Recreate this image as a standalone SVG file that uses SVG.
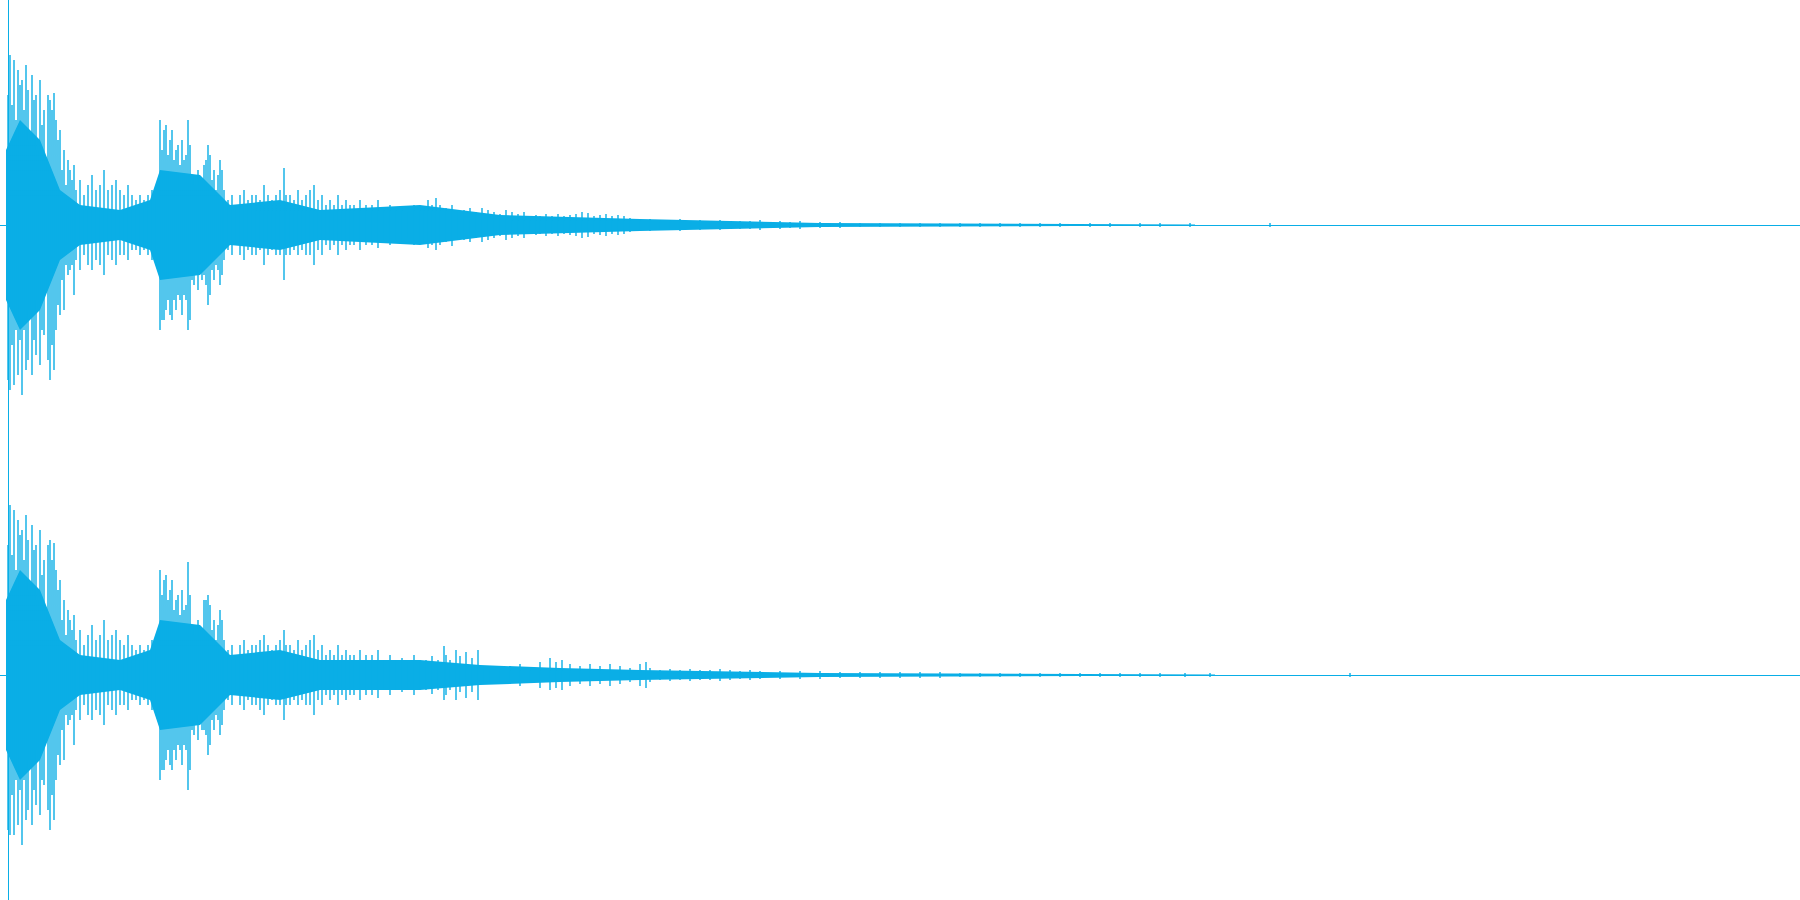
<svg xmlns="http://www.w3.org/2000/svg" width="1800" height="900" viewBox="0 0 1800 900">
<style>.w{stroke:#0aaee6;stroke-width:1.4;fill:none}.b{stroke:#0aaee6;stroke-width:1;fill:none}.f{fill:#0aaee6}</style>
<rect width="1800" height="900" fill="#fff"/>
<g id="axes" class="b"><path d="M8.5 0V900M0 225.5H1800M0 675.5H1800"/></g>
<g id="ch1">
<path class="f" d="M6 150L20 120L40 140L60 190L80 205L120 210L150 200L160 170L200 175L230 205L280 200L320 210L420 205L500 215L640 219L820 223L1195 224.5L1195 225.5L820 227L640 231L500 235L420 245L320 240L280 250L230 245L200 275L160 280L150 250L120 240L80 245L60 260L40 310L20 330L6 300Z"/>
<path class="w" d="M8 95V380M10 55V390M12 105V345M14 60V385M16 120V330M18 70V375M20 85V340M22 80V395M24 110V330M26 65V370M28 90V360M30 140V310M32 75V375M34 100V340M36 95V355M38 150V300M40 80V365M42 125V330M44 110V335M46 160V290M48 95V360M50 100V380M52 110V345M54 93V370M56 120V330M58 140V305M60 130V315M62 170V280M64 150V310M66 185V265M68 160V275M70 170V270M72 180V265M74 165V295M76 190V260M80 180V270M84 195V255M88 185V265M92 175V270M96 190V260M100 185V265M104 170V275M108 190V255M112 185V260M116 180V265M120 190V255M124 195V255M128 185V260M132 195V250M136 200V250M140 195V255M144 200V250M148 195V255M152 190V260M156 200V250M160 120V330M162 150V320M164 130V320M166 125V310M168 155V300M170 140V315M172 130V320M174 160V300M176 150V310M178 145V295M180 165V300M182 140V315M184 160V295M186 155V300M188 120V330M190 145V320M192 180V280M194 175V285M196 185V270M198 170V290M200 180V265M202 180V280M204 165V275M206 160V285M208 145V305M210 155V295M212 180V270M214 170V280M216 190V265M218 175V270M220 160V285M222 170V275M224 190V260M228 200V250M232 195V255M236 205V245M240 195V255M244 190V260M248 200V250M252 195V255M256 195V255M260 200V250M264 185V265M268 195V255M272 200V250M276 195V255M280 190V255M284 168V280M286 195V255M290 195V255M294 200V250M298 190V255M302 200V250M306 195V255M310 190V255M314 185V265M318 200V250M322 195V255M326 205V245M330 200V250M334 205V245M338 195V255M342 205V245M346 200V250M350 205V245M354 205V245M360 200V250M366 205V245M372 205V245M378 200V248M384 210V240M390 205V245M396 210V240M402 208V242M408 212V238M414 205V245M420 210V240M424 208V244M428 200V248M432 205V245M436 198V250M440 205V245M446 208V242M452 205V246M458 210V240M464 210V240M470 208V242M476 212V238M482 208V242M488 210V240M494 212V238M500 214V236M506 210V240M512 212V238M518 214V236M524 212V238M530 216V234M536 215V235M540 216V234M546 214V236M552 216V234M558 214V236M564 216V234M570 215V235M576 214V236M582 212V238M588 213V237M594 216V234M600 215V235M606 214V236M612 216V234M618 215V235M624 216V234M630 218V232M640 220V230M650 219V231M660 220V230M670 220V230M680 219V231M690 221V229M700 220V230M710 221V229M720 220V230M730 221V229M740 221V229M750 221V229M760 220V230M770 222V228M780 221V229M790 222V228M800 221V229M810 223V227M820 222V228M830 223V227M840 222V228M860 223V227M880 223V227M900 223V227M920 223V227M940 223V227M960 223V227M980 223V227M1000 223V227M1020 223V227M1040 223V227M1060 223V227M1090 223V227M1110 223V227M1140 223V227M1160 223V227M1190 223V227M1270 223V227"/>
</g>
<g id="ch2">
<path class="f" d="M6 600L20 570L40 590L60 640L80 655L120 660L150 650L160 620L200 625L230 655L280 650L320 660L420 660L480 665L560 668L640 670L820 673L1215 674.5L1215 675.5L820 677L640 680L560 682L480 685L420 690L320 690L280 700L230 695L200 725L160 730L150 700L120 690L80 695L60 710L40 760L20 780L6 750Z"/>
<path class="w" d="M8 545V830M10 505V835M12 555V795M14 510V835M16 570V780M18 520V825M20 535V790M22 530V845M24 560V780M26 515V820M28 540V810M30 590V760M32 525V825M34 550V790M36 545V805M38 600V750M40 530V815M42 575V780M44 560V785M46 610V740M48 545V810M50 540V830M52 560V795M54 543V820M56 570V780M58 590V755M60 580V765M62 620V730M64 600V760M66 635V715M68 610V725M70 620V720M72 630V715M74 615V745M76 640V710M80 630V720M84 645V705M88 635V715M92 625V720M96 640V710M100 635V715M104 620V725M108 640V705M112 635V710M116 630V715M120 640V705M124 645V705M128 635V710M132 645V700M136 650V700M140 645V705M144 650V700M148 645V705M152 640V710M156 650V700M160 570V780M162 595V770M164 580V770M166 575V760M168 600V750M170 590V765M172 580V770M174 610V750M176 600V760M178 595V745M180 615V750M182 590V765M184 610V745M186 605V750M188 562V790M190 595V770M192 630V730M194 625V735M196 635V720M198 620V740M200 630V715M202 630V730M204 600V730M206 600V735M208 595V755M210 605V745M212 630V720M214 620V730M216 640V715M218 625V720M220 610V735M222 620V725M224 640V710M228 650V700M232 645V705M236 655V695M240 645V705M244 640V710M248 650V700M252 645V705M256 645V705M260 640V710M264 635V715M268 645V705M272 650V700M276 645V705M280 640V705M284 630V720M286 645V705M290 645V705M294 650V700M298 640V705M302 650V700M306 645V705M310 640V705M314 635V715M318 650V700M322 645V705M326 655V695M330 650V700M334 655V695M338 645V705M342 655V695M346 650V700M350 655V695M354 655V695M360 650V700M366 655V695M372 655V695M378 650V698M384 660V690M390 655V695M396 660V690M402 658V692M408 662V688M414 655V695M420 660V690M426 660V690M432 656V694M438 660V690M444 646V700M446 655V695M450 660V690M456 650V700M460 656V692M466 652V698M472 658V692M478 650V700M484 666V684M490 668V682M500 668V682M510 666V684M520 664V686M530 668V682M540 662V688M550 658V690M556 662V688M562 660V690M570 664V686M580 666V684M590 664V686M600 666V684M610 664V686M620 666V684M630 668V682M640 664V686M646 662V688M650 668V682M660 670V680M670 669V681M680 670V680M690 669V681M700 670V680M710 670V680M720 669V681M730 670V680M740 671V679M750 670V680M760 671V679M780 671V679M800 671V679M820 671V679M840 672V678M860 672V678M880 672V678M900 672V678M920 672V678M940 672V678M960 673V677M980 673V677M1000 673V677M1020 673V677M1040 673V677M1060 673V677M1080 673V677M1100 673V677M1120 673V677M1140 673V677M1160 673V677M1185 673V677M1210 673V677M1350 673V677"/>
</g>
</svg>
